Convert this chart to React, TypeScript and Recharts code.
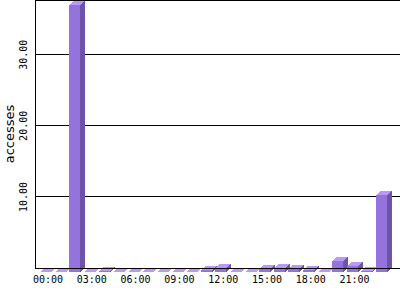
import { BarChart, Bar, XAxis, YAxis, CartesianGrid } from 'recharts';

const hours = [
  '00:00', '01:00', '02:00', '03:00', '04:00', '05:00',
  '06:00', '07:00', '08:00', '09:00', '10:00', '11:00',
  '12:00', '13:00', '14:00', '15:00', '16:00', '17:00',
  '18:00', '19:00', '20:00', '21:00', '22:00', '23:00',
];
const accesses = [
  0, 0, 37.6, 0, 0.2, 0, 0, 0, 0, 0, 0, 0.3,
  0.6, 0, 0, 0.45, 0.6, 0.4, 0.3, 0, 1.5, 0.8, 0.2, 10.8,
];
const yTicks = [10, 20, 30];

const data = hours.map((h, i) => ({ hour: h, value: accesses[i] }));

// depth of the fake 3d effect
const DX = 5;
const DY = 4;

function Bar3D(props: any) {
  const { x, y, width, height } = props;
  if (x == null || y == null) return null;
  const fx = Math.round(x - DX / 2);
  const fy = Math.round(y + DY);
  const h = Math.max(0, Math.round(height));
  return (
    <g shapeRendering="crispEdges">
      {h > 0 && (
        <polygon
          points={`${fx + width},${fy} ${fx + width + DX},${fy - DY} ${fx + width + DX},${fy - DY + h} ${fx + width},${fy + h}`}
          fill="#6e54a6"
        />
      )}
      {h > 0 && <rect x={fx} y={fy} width={width} height={h} fill="#9473dc" />}
      <polygon
        points={`${fx},${fy} ${fx + width},${fy} ${fx + width + DX},${fy - DY} ${fx + DX},${fy - DY}`}
        fill="#bb98f6"
      />
    </g>
  );
}

const YTick = (props: any) => {
  const { y, payload } = props;
  const cx = 24;
  return (
    <text
      x={cx}
      y={y}
      transform={`rotate(-90 ${cx} ${y})`}
      textAnchor="middle"
      dominantBaseline="central"
      fontFamily="DejaVu Sans Mono"
      fontSize={10}
      fill="#000"
    >
      {Number(payload.value).toFixed(2)}
    </text>
  );
};

export default function App() {
  return (
    <div style={{ position: 'absolute', left: 0, top: 0, background: '#fff' }}>
      <BarChart
        width={400}
        height={300}
        data={data}
        margin={{ top: 0, right: 0, left: 0, bottom: 0 }}
        barCategoryGap={0}
      >
        <CartesianGrid vertical={false} stroke="#000" strokeOpacity={1} shapeRendering="crispEdges" />
        <XAxis
          dataKey="hour"
          interval={2}
          height={32}
          padding={{ left: 5.7, right: 8.9 }}
          tickLine={false}
          axisLine={{ stroke: '#000', shapeRendering: 'crispEdges' }}
          tick={{ fill: '#000', fontSize: 10, fontFamily: 'DejaVu Sans Mono' }}
        />
        <YAxis
          width={35}
          domain={[0, 37.7]}
          ticks={yTicks}
          tickLine={false}
          axisLine={{ stroke: '#000', shapeRendering: 'crispEdges' }}
          tick={<YTick />}
          label={{
            content: () => (
              <text
                x={9}
                y={134}
                transform="rotate(-90 9 134)"
                textAnchor="middle"
                dominantBaseline="central"
                fontFamily="DejaVu Sans"
                fontSize={13}
                fill="#000"
              >
                accesses
              </text>
            ),
          }}
        />
        <Bar
          dataKey="value"
          barSize={11}
          isAnimationActive={false}
          shape={(p: any) => <Bar3D {...p} />}
        />
      </BarChart>
    </div>
  );
}
